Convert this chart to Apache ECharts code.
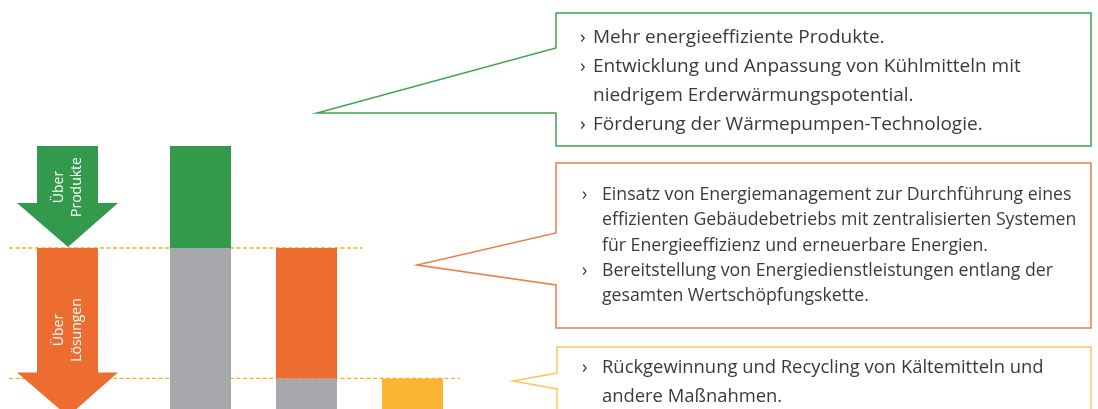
<!DOCTYPE html>
<html>
<head>
<meta charset="utf-8">
<script src="https://cdn.jsdelivr.net/npm/echarts@6/dist/echarts.min.js"></script>
<style>
html,body{margin:0;padding:0;background:#fff;}
#chart{width:1098px;height:409px;}
</style>
</head>
<body>
<div id="chart"></div>
<script>
// ---- data ----
const categories = ['Ausgangswert', 'Nach Produkten', 'Nach Lösungen'];
const baseValues = [75, 43, 0];          // grey remaining part
const productSavings = [25, '-', '-'];   // green
const solutionSavings = ['-', 32, '-'];  // orange
const otherMeasures = ['-', '-', 43];    // yellow
const levels = [75, 43];                 // dashed reference levels
const arrowLabels = ['Über\nProdukte', 'Über\nLösungen'];
const greenLines = [
  ['›', 'Mehr energieeffiziente Produkte.'],
  ['›', 'Entwicklung und Anpassung von Kühlmitteln mit'],
  ['', 'niedrigem Erderwärmungspotential.'],
  ['›', 'Förderung der Wärmepumpen-Technologie.']
];
const orangeLines = [
  ['›', 'Einsatz von Energiemanagement zur Durchführung eines'],
  ['', 'effizienten Gebäudebetriebs mit zentralisierten Systemen'],
  ['', 'für Energieeffizienz und erneuerbare Energien.'],
  ['›', 'Bereitstellung von Energiedienstleistungen entlang der'],
  ['', 'gesamten Wertschöpfungskette.']
];
const yellowLines = [
  ['›', 'Rückgewinnung und Recycling von Kältemitteln und'],
  ['', 'andere Maßnahmen.']
];

const C = {
  green: '#339a4c', orange: '#ed6d31', grey: '#a7a8ab', yellow: '#fbb532',
  dash: '#f8b01c',
  greenLine: '#3fa34e', orangeLine: '#ee7b47', yellowLine: '#fdc55c', text: '#3a3a3a'
};
const FONT = '"Open Sans", sans-serif';

const chart = echarts.init(document.getElementById('chart'), null, {renderer: 'canvas'});
chart.setOption({
  animation: false,
  grid: {left: 147.5, width: 318, top: 146, height: 263, outerBoundsMode: 'none'},
  xAxis: {type: 'category', data: categories, show: false},
  yAxis: {type: 'value', min: 35.5, max: 100, show: false},
  series: [
    {type: 'bar', stack: 's', data: baseValues, barWidth: 61, itemStyle: {color: C.grey}},
    {type: 'bar', stack: 's', data: productSavings, barWidth: 61, itemStyle: {color: C.green}},
    {type: 'bar', stack: 's', data: solutionSavings, barWidth: 61, itemStyle: {color: C.orange}},
    {type: 'bar', stack: 's', data: otherMeasures, barWidth: 61, itemStyle: {color: C.yellow}}
  ]
});

const yPx = v => chart.convertToPixel({yAxisIndex: 0}, v);
const yTop = yPx(100), y1 = yPx(levels[0]), y2 = yPx(levels[1]);

function arrow(top, headStart, tip, color) {
  return {type: 'polygon', shape: {points: [
    [37, top], [98, top], [98, headStart], [118, headStart], [68, tip],
    [17, headStart], [37, headStart]
  ]}, style: {fill: color}, z: 5};
}
function callout(points, color) {
  return {type: 'polygon', shape: {points: points},
    style: {fill: '#fff', stroke: color, lineWidth: 1.5}, z: 5};
}
function textBlock(lines, bx, tx, y0, dy, size) {
  const out = [];
  lines.forEach((l, i) => {
    const y = y0 + i * dy;
    if (l[0]) out.push({type: 'text', x: bx, y: y, z: 6,
      style: {text: l[0], font: size + 'px ' + FONT, fill: C.text, verticalAlign: 'middle', align: 'left'}});
    out.push({type: 'text', x: tx, y: y, z: 6,
      style: {text: l[1], font: size + 'px ' + FONT, fill: C.text, verticalAlign: 'middle', align: 'left'}});
  });
  return out;
}

const dash = (y, x2) => ({type: 'line', shape: {x1: 9, y1: y, x2: x2, y2: y},
  style: {stroke: C.dash, lineWidth: 1.4, lineDash: [4, 2.5]}, z: 1});

const graphics = [
  dash(y1, 362), dash(y2, 460),
  arrow(yTop, y1 - 45, y1 - 1, C.green),
  arrow(y1, y2 - 6, y2 + 38, C.orange),
  {type: 'text', x: 68, y: 187, rotation: Math.PI / 2, z: 6,
    style: {text: arrowLabels[0], font: '14px ' + FONT, fill: '#fff', align: 'center', verticalAlign: 'middle', lineHeight: 18}},
  {type: 'text', x: 68, y: 330, rotation: Math.PI / 2, z: 6,
    style: {text: arrowLabels[1], font: '14px ' + FONT, fill: '#fff', align: 'center', verticalAlign: 'middle', lineHeight: 18}},
  callout([[556, 13], [1091, 13], [1091, 146], [556, 146], [556, 113], [317, 113], [556, 48]], C.greenLine),
  callout([[556, 163], [1091, 163], [1091, 328], [556, 328], [556, 285], [417, 265], [556, 233]], C.orangeLine),
  callout([[557, 347], [1091, 347], [1091, 430], [557, 430], [557, 389], [513, 381], [557, 373]], C.yellowLine)
].concat(
  textBlock(greenLines, 580, 593, 38, 29, 19),
  textBlock(orangeLines, 582, 602, 195, 25.3, 17.7),
  textBlock(yellowLines, 582, 602, 368, 29, 18.4)
);
chart.setOption({graphic: {elements: graphics}});
</script>
</body>
</html>
